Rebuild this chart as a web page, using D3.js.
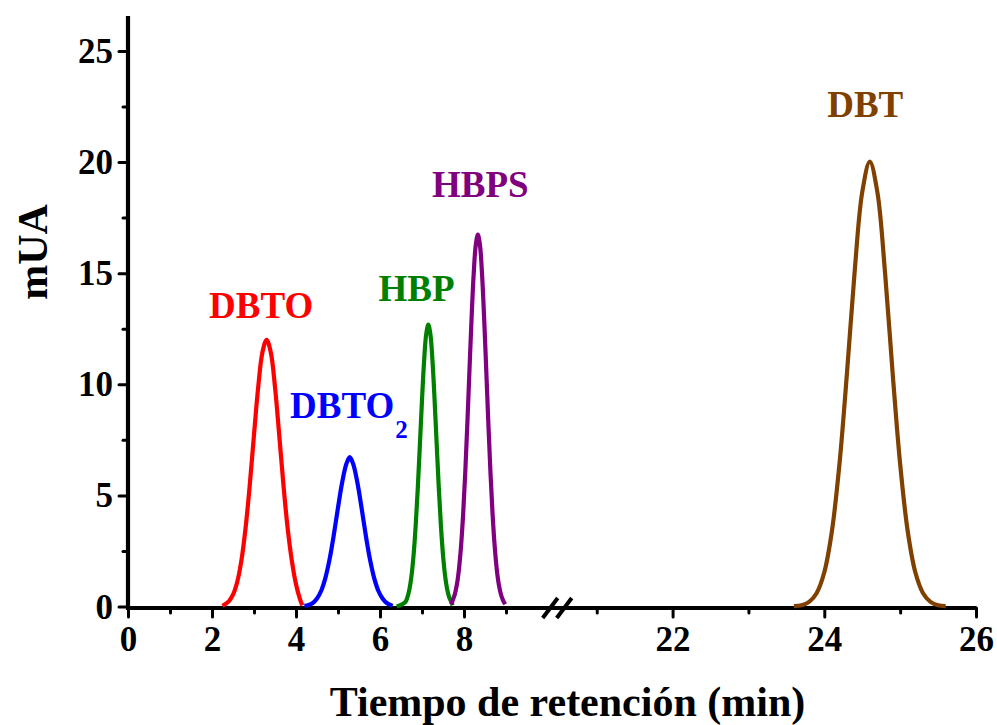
<!DOCTYPE html>
<html>
<head>
<meta charset="utf-8">
<script src="https://cdn.jsdelivr.net/npm/d3@7"></script>
<style>
  html, body { margin: 0; padding: 0; background: #fff; }
  svg { display: block; }
  text { font-family: "Liberation Serif", "Times New Roman", serif; font-weight: bold; }
</style>
</head>
<body>
<svg id="chart" width="997" height="725"></svg>
<script>
// ---------------- DATA ----------------
// Peak traces (time in min, signal in mUA)
const dbtoX  = [2.25, 2.4, 2.5, 2.6, 2.7, 2.8, 2.9, 3.0, 3.1, 3.2, 3.3, 3.4, 3.5, 3.6, 3.7, 3.8, 3.9, 4.0, 4.1, 4.15];
const dbtoY  = [0.03, 0.23, 0.53, 1.10, 2.07, 3.54, 5.49, 7.73, 9.87, 11.43, 12.0, 11.43, 9.87, 7.73, 5.49, 3.54, 2.07, 1.0, 0.3, 0.05];

const dbto2X = [4.2, 4.3, 4.4, 4.5, 4.6, 4.7, 4.8, 4.9, 5.0, 5.1, 5.2, 5.28, 5.36, 5.46, 5.56, 5.66, 5.76, 5.86, 5.96, 6.06, 6.16, 6.3];
const dbto2Y = [0.03, 0.07, 0.16, 0.36, 0.71, 1.29, 2.13, 3.22, 4.45, 5.59, 6.42, 6.72, 6.42, 5.59, 4.45, 3.22, 2.13, 1.29, 0.71, 0.36, 0.16, 0.03];

const hbpX = [6.4, 6.6, 6.65, 6.7, 6.75, 6.8, 6.85, 6.9, 6.95, 7.0, 7.05, 7.1, 7.15, 7.2, 7.25, 7.3, 7.35, 7.4, 7.45, 7.5, 7.55, 7.6, 7.65, 7.7, 7.73];
const hbpY = [0.0, 0.19, 0.40, 0.77, 1.38, 2.32, 3.65, 5.34, 7.29, 9.29, 11.04, 12.25, 12.68, 12.25, 11.04, 9.29, 7.29, 5.34, 3.65, 2.32, 1.38, 0.77, 0.40, 0.19, 0.05];

const hbpsX = [7.70, 7.73, 7.78, 7.83, 7.88, 7.93, 7.98, 8.03, 8.08, 8.13, 8.18, 8.23, 8.28, 8.33, 8.38, 8.43, 8.48, 8.53, 8.58, 8.63, 8.68, 8.73, 8.78, 8.83, 8.88, 8.93, 8.98];
const hbpsY = [0.10, 0.28, 0.54, 0.98, 1.68, 2.73, 4.17, 6.03, 8.24, 10.63, 12.96, 14.94, 16.26, 16.73, 16.26, 14.94, 12.96, 10.63, 8.24, 6.03, 4.17, 2.73, 1.68, 0.98, 0.54, 0.28, 0.10];

const dbtX = [23.6, 23.7, 23.8, 23.9, 24.0, 24.1, 24.2, 24.3, 24.4, 24.5, 24.6, 24.7, 24.8, 24.9, 25.0, 25.1, 25.2, 25.3, 25.4, 25.5, 25.6];
const dbtY = [0.02, 0.06, 0.21, 0.61, 1.54, 3.38, 6.41, 10.55, 15.06, 18.64, 20.02, 18.64, 15.06, 10.55, 6.41, 3.38, 1.54, 0.61, 0.21, 0.06, 0.02];

// Peak names (labels) and label anchors in data units
const peakNames  = ["DBTO", "DBTO", "HBP", "HBPS", "DBT"];
const peakSubs   = ["", "2", "", "", ""];
const labelTime  = [3.17, 3.86, 6.87, 8.39, 24.54];
const labelValue = [12.98, 8.48, 13.75, 18.43, 22.04];

// Axis ticks
const xMajorLeft  = [0, 2, 4, 6, 8];
const xMinorLeft  = [1, 3, 5, 7, 9];
const xMajorRight = [22, 24, 26];
const xMinorRight = [21, 23, 25];
const yMajor = [0, 5, 10, 15, 20, 25];
const yMinor = [2.5, 7.5, 12.5, 17.5, 22.5];

const xTitle = "Tiempo de retención (min)";
const yTitle = "mUA";

// ---------------- STYLES ----------------
const seriesColors = ["#ff0000", "#0000ff", "#008000", "#800080", "#804000"];
const labelAnchors = ["middle", "start", "middle", "middle", "middle"];

// ---------------- CHART ----------------
const svg = d3.select("#chart");

const xLeft  = d3.scaleLinear().domain([0, 10]).range([128, 548]);
const xRight = d3.scaleLinear().domain([20.6, 26]).range([566.4, 976]);
const xPos = v => (v < 15 ? xLeft(v) : xRight(v));
const y = d3.scaleLinear().domain([0, 26.57]).range([606.5, 16]);

const axisY = y(0) + 1.5;
const axisG = svg.append("g");

// axis lines
axisG.append("line")
  .attr("x1", xLeft(0) - 2).attr("x2", xRight(26) + 0.5)
  .attr("y1", axisY).attr("y2", axisY)
  .attr("stroke", "#000").attr("stroke-width", 4.2);
axisG.append("line")
  .attr("x1", xLeft(0)).attr("x2", xLeft(0))
  .attr("y1", axisY + 2).attr("y2", y.range()[1])
  .attr("stroke", "#000").attr("stroke-width", 4.2);

function styleAxis(g) {
  g.select(".domain").remove();
  g.selectAll(".tick line").attr("stroke", "#000").attr("stroke-width", 3).attr("stroke-linecap", "round");
  g.selectAll("text").attr("fill", "#000").style("font-size", "35px").style("font-family", null);
}

// x axes (bottom)
[[xLeft, xMajorLeft, xMinorLeft], [xRight, xMajorRight, xMinorRight]].forEach(([sc, maj, min]) => {
  svg.append("g").attr("transform", `translate(0,${axisY})`)
    .call(d3.axisBottom(sc).tickValues(min).tickSize(5).tickFormat(""))
    .call(styleAxis);
  svg.append("g").attr("transform", `translate(0,${axisY})`)
    .call(d3.axisBottom(sc).tickValues(maj).tickSize(9).tickFormat(d3.format("d")))
    .call(styleAxis)
    .call(g => g.selectAll("text").attr("y", 43).attr("dy", null));
});

// y axis (left)
svg.append("g").attr("transform", `translate(${xLeft(0)},0)`)
  .call(d3.axisLeft(y).tickValues(yMinor).tickSize(5).tickFormat(""))
  .call(styleAxis);
svg.append("g").attr("transform", `translate(${xLeft(0)},0)`)
  .call(d3.axisLeft(y).tickValues(yMajor).tickSize(9).tickFormat(d3.format("d")))
  .call(styleAxis)
  .call(g => g.selectAll("text").attr("x", -15).attr("dy", "0.33em"));

// axis break marks
const breakX = (xLeft.range()[1] + xRight.range()[0]) / 2;
[-7, 7].forEach(off => {
  svg.append("line")
    .attr("x1", breakX + off - 7.5).attr("y1", axisY + 10)
    .attr("x2", breakX + off + 7.5).attr("y2", axisY - 10)
    .attr("stroke", "#000").attr("stroke-width", 4);
});

// traces
const traces = [[dbtoX, dbtoY], [dbto2X, dbto2Y], [hbpX, hbpY], [hbpsX, hbpsY], [dbtX, dbtY]];
const line = d3.line()
  .x(d => xPos(d[0]))
  .y(d => y(d[1]))
  .curve(d3.curveCatmullRom.alpha(0.5));

traces.forEach(([xs, ys], i) => {
  const pts = xs.map((v, k) => [v, ys[k]]);
  svg.append("path")
    .datum(pts)
    .attr("d", line)
    .attr("fill", "none")
    .attr("stroke", seriesColors[i])
    .attr("stroke-width", 4.2)
    .attr("stroke-linejoin", "round");
});

// peak labels
peakNames.forEach((name, i) => {
  const t = svg.append("text")
    .attr("x", xPos(labelTime[i]))
    .attr("y", y(labelValue[i]))
    .attr("text-anchor", labelAnchors[i])
    .attr("fill", seriesColors[i])
    .style("font-size", "37px")
    .text(name);
  if (peakSubs[i]) {
    t.append("tspan")
      .attr("dx", 1)
      .attr("dy", 20)
      .style("font-size", "25px")
      .text(peakSubs[i]);
  }
});

// axis titles
svg.append("text")
  .attr("x", 567.5).attr("y", 716)
  .attr("text-anchor", "middle")
  .style("font-size", "42px")
  .text(xTitle);

svg.append("text")
  .attr("transform", "translate(47,252) rotate(-90)")
  .attr("text-anchor", "middle")
  .style("font-size", "42px")
  .text(yTitle);
</script>
</body>
</html>
